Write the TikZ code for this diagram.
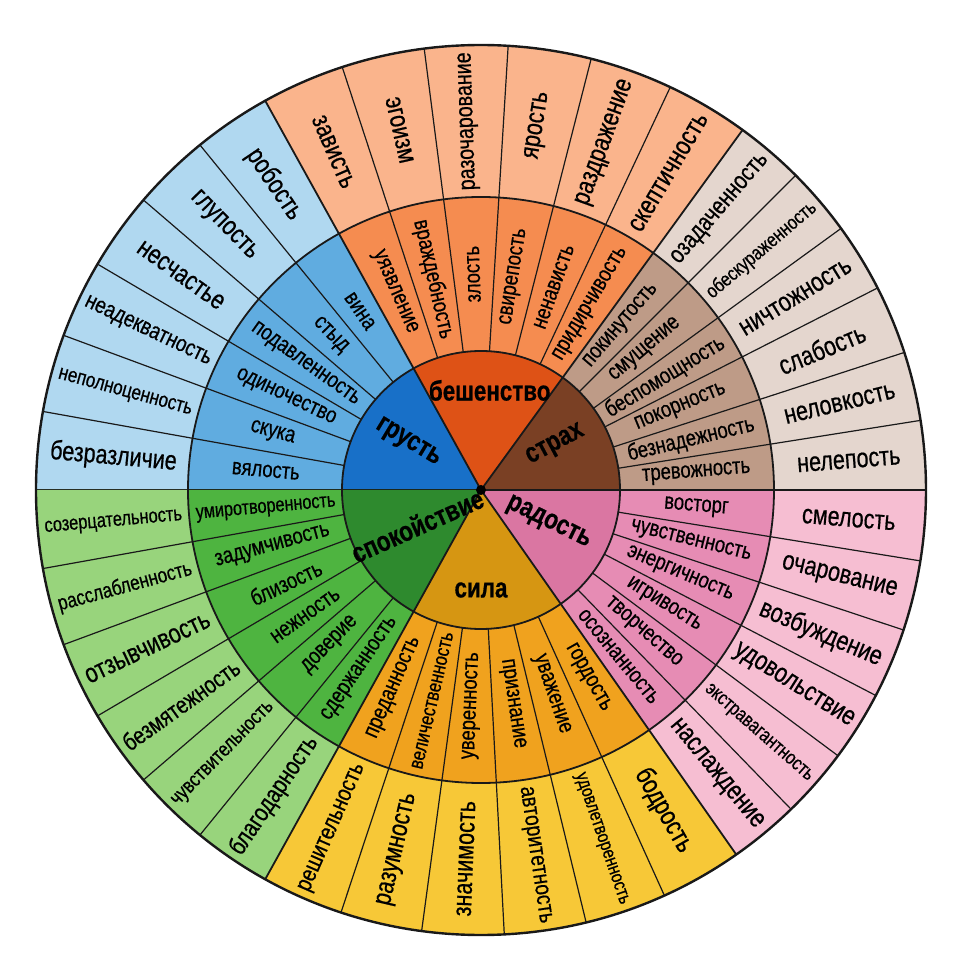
\documentclass[tikz,border=0pt]{standalone}
\usepackage{fontspec}
\setmainfont{Liberation Sans}[FakeStretch=0.8,FakeBold=0.6]
\usepackage{graphicx}

\definecolor{grO}{HTML}{B0D8F0}
\definecolor{grM}{HTML}{60ACE0}
\definecolor{grC}{HTML}{1870C8}
\definecolor{beO}{HTML}{FAB48C}
\definecolor{beM}{HTML}{F58C50}
\definecolor{beC}{HTML}{DE5216}
\definecolor{stO}{HTML}{E4D6CE}
\definecolor{stM}{HTML}{BE9B87}
\definecolor{stC}{HTML}{7A4024}
\definecolor{raO}{HTML}{F6BED2}
\definecolor{raM}{HTML}{E68CB4}
\definecolor{raC}{HTML}{DA76A2}
\definecolor{siO}{HTML}{F7C837}
\definecolor{siM}{HTML}{F0A21E}
\definecolor{siC}{HTML}{D69612}
\definecolor{spO}{HTML}{98D47C}
\definecolor{spM}{HTML}{4EB440}
\definecolor{spC}{HTML}{2E8A2E}

\newsavebox\lblbox
\newcommand\fitlbl[2]{\sbox\lblbox{#2}\ifdim\wd\lblbox>#1\relax\resizebox{#1}{!}{\usebox\lblbox}\else\usebox\lblbox\fi}

% ring band: from, to, inner r, outer r, colour
\newcommand\band[5]{\fill[#5] (#1:#3) arc[start angle=#1,end angle=#2,radius=#3]
  -- (#2:#4) arc[start angle=#2,end angle=#1,radius=#4] -- cycle;}

% words of one ring: from, to, radius, style, name prefix, max width, words
\newcommand\ringtext[7]{%
  \foreach \w [count=\k] in {#7} {
    \pgfmathsetmacro\ang{#1-(\k-0.5)*(#1-(#2))/6}
    \pgfmathsetmacro\rot{or(\ang>95,\ang<-90) ? \ang+180 : \ang}
    \node[#4,rotate=\rot] (#5\k) at (\ang:#3) {\fitlbl{#6}{\w}};
  }}

\begin{document}
\begin{tikzpicture}[x=1pt,y=1pt,
  rim/.style={draw=black!90,line width=1.8pt},
  sub/.style={draw=black!90,line width=1.2pt},
  outw/.style={font=\fontsize{27}{29}\selectfont,inner sep=0pt},
  midw/.style={font=\fontsize{23}{25}\selectfont,inner sep=0pt},
  corew/.style={font=\bfseries\fontsize{28}{30}\selectfont,inner sep=0pt}]

\useasboundingbox (-481,-482) rectangle (497,490);

% ---- coloured sectors ----
\foreach \a/\b/\col in {180/119/gr,119/54/be,54/0/st,0/-55/ra,-55/-119/si,-119/-180/sp} {
  \fill[\col C] (0,0) -- (\a:139) arc[start angle=\a,end angle=\b,radius=139] -- cycle;
  \band{\a}{\b}{139}{293}{\col M}
  \band{\a}{\b}{293}{445}{\col O}
  \foreach \k in {1,...,5}
    \draw[sub] ({\a-\k*(\a-(\b))/6}:139) -- ({\a-\k*(\a-(\b))/6}:445);
  \draw[rim] (0,0) -- (\a:445);
}

% ---- rings ----
\draw[rim] (0,0) circle (139);
\draw[rim] (0,0) circle (293);
\draw[rim,line width=2.4pt] (0,0) circle (445);
\fill[black] (0,0) circle (5);

% ---- core words ----
\node[corew,rotate=-31] (grust) at (147:87)  {грусть};
\node[corew]            (besh)  at (85:100)  {бешенство};
\node[corew,rotate=28]  (strah) at (31:87)   {страх};
\node[corew,rotate=-26] (rad)   at (-26:75)  {радость};
\node[corew]            (sila)  at (-90:100) {сила};
\node[corew,rotate=24]  (spok)  at (-151:73) {спокойствие};

% ---- middle ring ----
\ringtext{180}{119}{216}{midw}{mgr}{140pt}{вялость,скука,одиночество,подавленность,стыд,вина}
\ringtext{119}{54}{216}{midw}{mbe}{140pt}{уязвление,враждебность,злость,свирепость,ненависть,придирчивость}
\ringtext{54}{0}{216}{midw}{mst}{140pt}{покинутость,смущение,беспомощность,покорность,безнадежность,тревожность}
\ringtext{0}{-55}{216}{midw}{mra}{140pt}{восторг,чувственность,энергичность,игривость,творчество,осознанность}
\ringtext{-55}{-119}{216}{midw}{msi}{140pt}{гордость,уважение,признание,уверенность,величественность,преданность}
\ringtext{-119}{-180}{216}{midw}{msp}{140pt}{сдержанность,доверие,нежность,близость,задумчивость,умиротворенность}

% ---- outer ring ----
\ringtext{180}{119}{369}{outw}{ogr}{138pt}{безразличие,неполноценность,неадекватность,несчастье,глупость,робость}
\ringtext{119}{54}{369}{outw}{obe}{138pt}{зависть,эгоизм,разочарование,ярость,раздражение,скептичность}
\ringtext{54}{0}{369}{outw}{ost}{138pt}{озадаченность,обескураженность,ничтожность,слабость,неловкость,нелепость}
\ringtext{0}{-55}{369}{outw}{ora}{138pt}{смелость,очарование,возбуждение,удовольствие,экстравагантность,наслаждение}
\ringtext{-55}{-119}{369}{outw}{osi}{138pt}{бодрость,удовлетворенность,авторитетность,значимость,разумность,решительность}
\ringtext{-119}{-180}{369}{outw}{osp}{138pt}{благодарность,чувствительность,безмятежность,отзывчивость,расслабленность,созерцательность}
\end{tikzpicture}
\end{document}
